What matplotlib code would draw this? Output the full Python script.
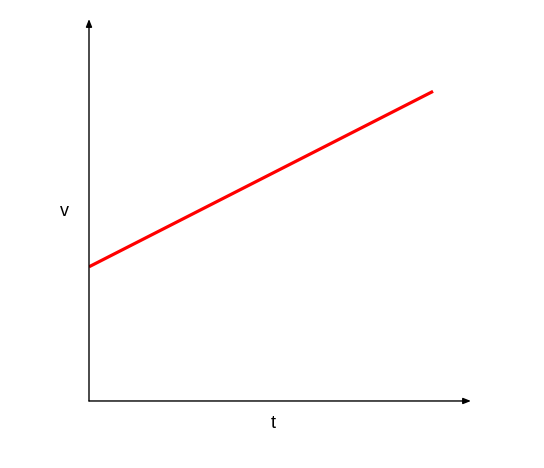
import matplotlib
matplotlib.use("Agg")
import matplotlib.pyplot as plt

# velocity grows linearly with time
t = [0, 10]
v = [3.9, 9.0]
t_max = 11.1
v_max = 11.1

fig = plt.figure(figsize=(5.44, 4.68), dpi=100)
ax = fig.add_axes([0.1636, 0.1432, 0.702, 0.816])
ax.plot(t, v, color="red", linewidth=2.3, solid_capstyle="butt")
ax.set_xlim(0, t_max)
ax.set_ylim(0, v_max)

for side in ["left", "bottom", "top", "right"]:
    ax.spines[side].set_visible(False)
ax.set_xticks([])
ax.set_yticks([])

arrow = dict(arrowstyle="-|>,head_length=0.45,head_width=0.18", color="black",
             linewidth=1, shrinkA=0, shrinkB=0)
ax.annotate("", xy=(1, 0), xytext=(0, 0), xycoords="axes fraction", arrowprops=arrow)
ax.annotate("", xy=(0, 1), xytext=(0, 0), xycoords="axes fraction", arrowprops=arrow)

fig.text(64 / 544, 1 - 211 / 468, "v", ha="center", va="center",
         fontsize=13, family="Liberation Sans")
fig.text(273 / 544, 1 - 423 / 468, "t", ha="center", va="center",
         fontsize=13, family="Liberation Sans")

fig.savefig("out.png", dpi=100)
